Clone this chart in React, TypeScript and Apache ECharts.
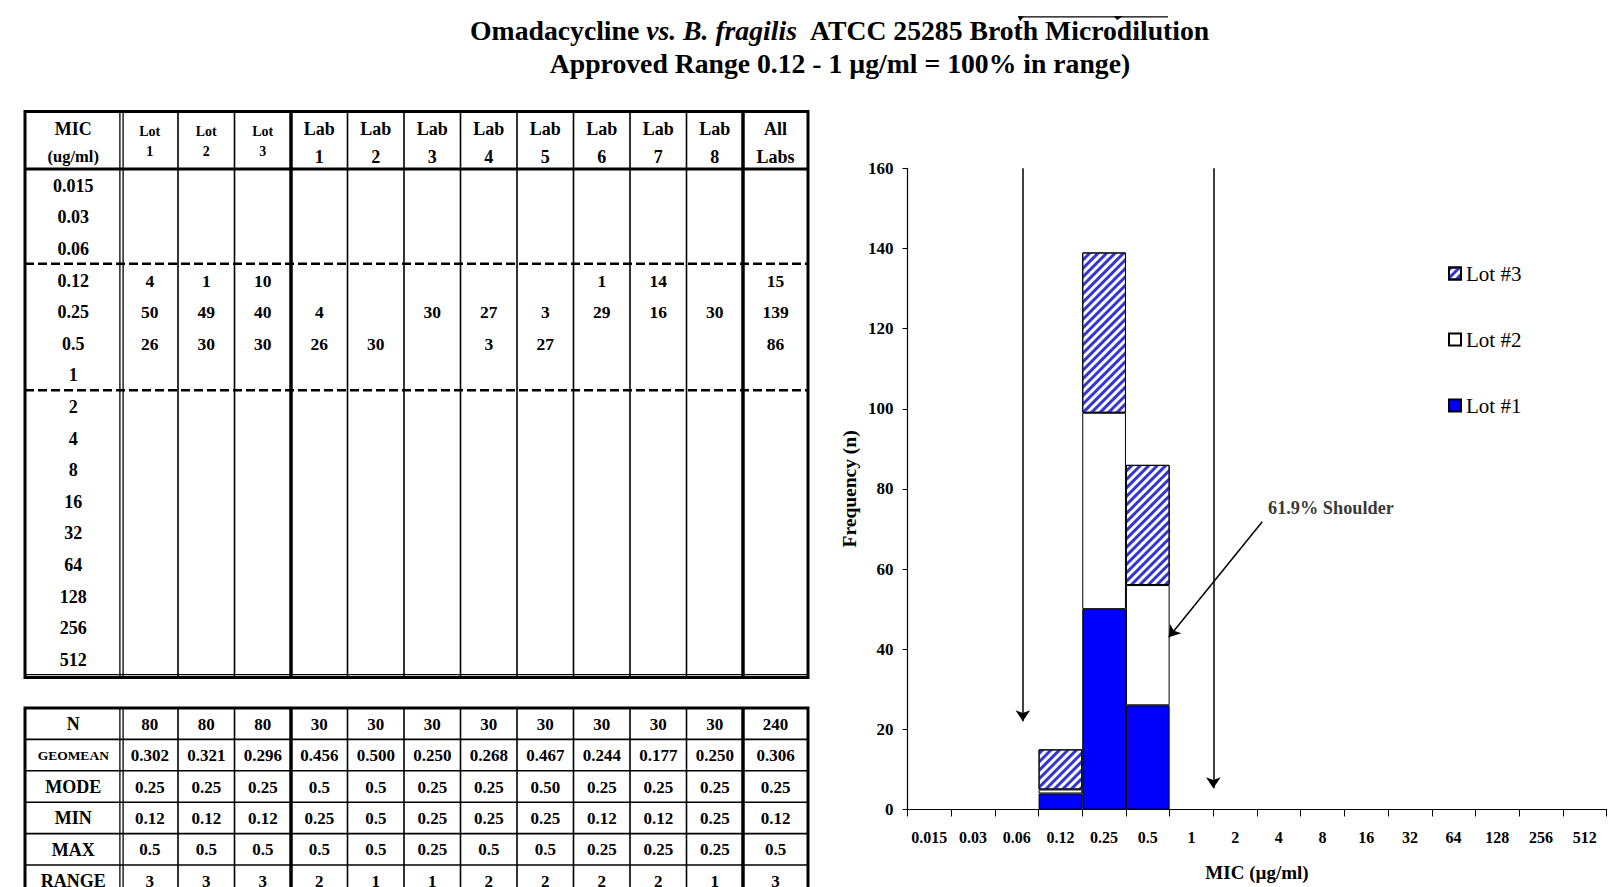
import React, { useEffect, useRef } from 'react';
import * as echarts from 'echarts';

const FONT = '"Liberation Serif", "Times New Roman", Times, serif';
const _ = null;

// ---- data ----
const micLabels = ['0.015', '0.03', '0.06', '0.12', '0.25', '0.5', '1', '2', '4', '8', '16', '32', '64', '128', '256', '512'];

const lot1Counts = [_, _, _, 4, 50, 26, _, _, _, _, _, _, _, _, _, _];
const lot2Counts = [_, _, _, 1, 49, 30, _, _, _, _, _, _, _, _, _, _];
const lot3Counts = [_, _, _, 10, 40, 30, _, _, _, _, _, _, _, _, _, _];
const lab1Counts = [_, _, _, _, 4, 26, _, _, _, _, _, _, _, _, _, _];
const lab2Counts = [_, _, _, _, _, 30, _, _, _, _, _, _, _, _, _, _];
const lab3Counts = [_, _, _, _, 30, _, _, _, _, _, _, _, _, _, _, _];
const lab4Counts = [_, _, _, _, 27, 3, _, _, _, _, _, _, _, _, _, _];
const lab5Counts = [_, _, _, _, 3, 27, _, _, _, _, _, _, _, _, _, _];
const lab6Counts = [_, _, _, 1, 29, _, _, _, _, _, _, _, _, _, _, _];
const lab7Counts = [_, _, _, 14, 16, _, _, _, _, _, _, _, _, _, _, _];
const lab8Counts = [_, _, _, _, 30, _, _, _, _, _, _, _, _, _, _, _];
const allLabsCounts = [_, _, _, 15, 139, 86, _, _, _, _, _, _, _, _, _, _];

const colHeadTop = ['Lot', 'Lot', 'Lot', 'Lab', 'Lab', 'Lab', 'Lab', 'Lab', 'Lab', 'Lab', 'Lab', 'All'];
const colHeadBottom = ['1', '2', '3', '1', '2', '3', '4', '5', '6', '7', '8', 'Labs'];

const statLabels = ['N', 'GEOMEAN', 'MODE', 'MIN', 'MAX', 'RANGE'];
const statN = ['80', '80', '80', '30', '30', '30', '30', '30', '30', '30', '30', '240'];
const statGeomean = ['0.302', '0.321', '0.296', '0.456', '0.500', '0.250', '0.268', '0.467', '0.244', '0.177', '0.250', '0.306'];
const statMode = ['0.25', '0.25', '0.25', '0.5', '0.5', '0.25', '0.25', '0.50', '0.25', '0.25', '0.25', '0.25'];
const statMin = ['0.12', '0.12', '0.12', '0.25', '0.5', '0.25', '0.25', '0.25', '0.12', '0.12', '0.25', '0.12'];
const statMax = ['0.5', '0.5', '0.5', '0.5', '0.5', '0.25', '0.5', '0.5', '0.25', '0.25', '0.25', '0.5'];
const statRange = ['3', '3', '3', '2', '1', '1', '2', '2', '2', '2', '1', '3'];

const seriesNames = ['Lot #1', 'Lot #2', 'Lot #3'];
const legendOrder = ['Lot #3', 'Lot #2', 'Lot #1'];

// annotation positions in data units (x: category units from left edge, y: frequency)
const rangeArrowX = [2.64, 7.0];
const rangeArrowTop = [160, 160];
const rangeArrowTip = [22, 5.3];
const shoulderArrowFrom = [8.12, 71.8];
const shoulderArrowTo = [5.98, 43];
const shoulderLabelAt = [8.24, 75.3];
const shoulderText = '61.9% Shoulder';
const approvedLow = '0.12';
const approvedHigh = '1';

// ---- layout ----
const TBL_LEFT = 25;
const LABEL_COL_RIGHT = 121.5;
const DATA_COL_W = 56.5;
const ALL_COL_W = 65;
const TOP_Y = 111.5;
const HEAD_BOTTOM = 169;
const ROW_H = 31.6;
const STAT_TOP = 708;
const STAT_ROW_H = 31.4;

function txt(text: string, x: number, y: number, size: number, weight = 'bold') {
  return {
    type: 'text',
    silent: true,
    x,
    y,
    style: {
      text,
      fill: '#000',
      fontSize: size,
      fontWeight: weight,
      fontFamily: FONT,
      align: 'center',
      verticalAlign: 'middle',
      textAlign: 'center',
      textVerticalAlign: 'middle',
    },
  };
}

function ln(x1: number, y1: number, x2: number, y2: number, w: number, dash?: number[]) {
  return {
    type: 'line',
    silent: true,
    shape: { x1, y1, x2, y2 },
    style: { stroke: '#000', lineWidth: w, lineDash: dash || null },
  };
}

function wedge(points: number[][]) {
  return { type: 'polygon', silent: true, shape: { points }, style: { fill: '#000', stroke: 'none' } };
}

function buildTables() {
  const els: any[] = [];
  const edges: number[] = [TBL_LEFT, LABEL_COL_RIGHT];
  for (let i = 0; i < 11; i++) edges.push(LABEL_COL_RIGHT + DATA_COL_W * (i + 1));
  edges.push(edges[edges.length - 1] + ALL_COL_W);
  const right = edges[edges.length - 1];
  const width = right - TBL_LEFT;
  const bodyBottom = HEAD_BOTTOM + micLabels.length * ROW_H;
  const topBottom = bodyBottom + 3;

  const columns = [lot1Counts, lot2Counts, lot3Counts, lab1Counts, lab2Counts, lab3Counts, lab4Counts, lab5Counts, lab6Counts, lab7Counts, lab8Counts, allLabsCounts];
  const stats = [statN, statGeomean, statMode, statMin, statMax, statRange];

  const verticals = (y1: number, y2: number) => {
    for (let i = 1; i < edges.length - 1; i++) {
      const x = edges[i];
      if (i === 1) {
        els.push(ln(x - 1.6, y1, x - 1.6, y2, 1.3));
        els.push(ln(x + 1.6, y1, x + 1.6, y2, 1.3));
      } else if (i === 4 || i === 12) {
        els.push(ln(x, y1, x, y2, 3.5));
      } else {
        els.push(ln(x, y1, x, y2, 1.6));
      }
    }
  };

  // top table frame
  els.push({ type: 'rect', silent: true, shape: { x: TBL_LEFT, y: TOP_Y, width, height: topBottom - TOP_Y }, style: { fill: 'none', stroke: '#000', lineWidth: 3 } });
  els.push(ln(TBL_LEFT, HEAD_BOTTOM, right, HEAD_BOTTOM, 3));
  els.push(ln(TBL_LEFT, bodyBottom, right, bodyBottom, 1.3));
  verticals(TOP_Y, topBottom);
  const lowIdx = micLabels.indexOf(approvedLow);
  const highIdx = micLabels.indexOf(approvedHigh);
  els.push(ln(TBL_LEFT, HEAD_BOTTOM + lowIdx * ROW_H, right, HEAD_BOTTOM + lowIdx * ROW_H, 2.6, [9, 4]));
  els.push(ln(TBL_LEFT, HEAD_BOTTOM + (highIdx + 1) * ROW_H, right, HEAD_BOTTOM + (highIdx + 1) * ROW_H, 2.6, [9, 4]));

  // header texts
  const labelCx = (edges[0] + edges[1]) / 2;
  els.push(txt('MIC', labelCx, 129, 18));
  els.push(txt('(ug/ml)', labelCx, 156.5, 16.5));
  for (let c = 0; c < 12; c++) {
    const cx = (edges[c + 1] + edges[c + 2]) / 2;
    const small = colHeadTop[c] === 'Lot';
    els.push(txt(colHeadTop[c], cx, small ? 131.5 : 129, small ? 14 : 18));
    els.push(txt(colHeadBottom[c], cx, small ? 151.5 : 156.5, small ? 14 : 18));
  }
  // body
  micLabels.forEach((m, r) => {
    const cy = HEAD_BOTTOM + ROW_H * (r + 0.5) + 1;
    els.push(txt(m, labelCx, cy, 18));
    columns.forEach((col, c) => {
      const v = col[r];
      if (v != null) {
        const cx = (edges[c + 1] + edges[c + 2]) / 2;
        els.push(txt(String(v), cx, cy, 17.5));
      }
    });
  });

  // stats table
  els.push({ type: 'rect', silent: true, shape: { x: TBL_LEFT, y: STAT_TOP, width, height: 400 }, style: { fill: 'none', stroke: '#000', lineWidth: 3 } });
  for (let k = 1; k < statLabels.length; k++) {
    els.push(ln(TBL_LEFT, STAT_TOP + k * STAT_ROW_H, right, STAT_TOP + k * STAT_ROW_H, 1.6));
  }
  verticals(STAT_TOP, 900);
  statLabels.forEach((lab, r) => {
    const cy = STAT_TOP + STAT_ROW_H * (r + 0.5) + 0.5;
    els.push(txt(lab, labelCx, cy, lab === 'GEOMEAN' ? 13.5 : 18));
    stats[r].forEach((v, c) => {
      const cx = (edges[c + 1] + edges[c + 2]) / 2;
      els.push(txt(v, cx, cy, 17));
    });
  });

  // stray overline above the title
  els.push(ln(1018, 16.8, 1168, 16.8, 1.3));
  els.push(wedge([[1018, 16.2], [1024, 16.2], [1020, 21.5]]));
  els.push(wedge([[1114, 16.2], [1123, 16.2], [1117, 20]]));
  return els;
}

function buildOption() {
  const axisFont = { color: '#000', fontFamily: FONT, fontWeight: 'bold' as const };
  const hatch = {
    symbol: 'rect',
    symbolSize: 1,
    color: '#3434d4',
    dashArrayX: [1, 0],
    dashArrayY: [2.2, 2.2],
    rotation: -Math.PI / 4,
  };
  const barBase = {
    type: 'bar',
    stack: 'lots',
    barCategoryGap: '0%',
    silent: true,
  };
  return {
    animation: false,
    backgroundColor: '#fff',
    title: {
      left: 840,
      top: 14,
      padding: 0,
      textAlign: 'center',
      text: '{b|Omadacycline }{i|vs. B. fragilis}{b|  ATCC 25285 Broth Microdilution}\n{b|Approved Range 0.12 - 1 µg/ml = 100% in range)}',
      textStyle: {
        rich: {
          b: { fontFamily: FONT, fontWeight: 'bold', fontSize: 27.7, lineHeight: 33, color: '#000' },
          i: { fontFamily: FONT, fontWeight: 'bold', fontStyle: 'italic', fontSize: 27.7, lineHeight: 33, color: '#000' },
        },
      },
    },
    legend: {
      data: legendOrder,
      orient: 'vertical',
      left: 1448,
      top: 263,
      padding: 0,
      itemWidth: 12,
      itemHeight: 12,
      itemGap: 45,
      icon: 'rect',
      selectedMode: false,
      textStyle: { color: '#000', fontFamily: FONT, fontSize: 21 },
    },
    grid: { left: 907.5, right: 6.5, top: 168.3, bottom: 77.5, containLabel: false, outerBoundsMode: 'none' },
    xAxis: [
      {
        type: 'category',
        data: micLabels,
        boundaryGap: true,
        axisLine: { show: true, lineStyle: { color: '#000', width: 1.2 } },
        axisTick: { show: true, interval: 0, length: 7, lineStyle: { color: '#000' } },
        axisLabel: { ...axisFont, interval: 0, fontSize: 16, margin: 20 },
        splitLine: { show: false },
        name: 'MIC (µg/ml)',
        nameLocation: 'middle',
        nameGap: 53,
        nameTextStyle: { ...axisFont, fontSize: 19 },
      },
      { type: 'value', min: 0, max: 16, show: false },
    ],
    yAxis: {
      type: 'value',
      min: 0,
      max: 160,
      interval: 20,
      axisLine: { show: true, lineStyle: { color: '#000', width: 1.2 } },
      axisTick: { show: true, length: 5, lineStyle: { color: '#000' } },
      axisLabel: { ...axisFont, fontSize: 17, margin: 14 },
      splitLine: { show: false },
      name: 'Frequency (n)',
      nameLocation: 'middle',
      nameGap: 48,
      nameTextStyle: { ...axisFont, fontSize: 19.5 },
    },
    series: [
      { ...barBase, name: seriesNames[0], data: lot1Counts, itemStyle: { color: '#0000ff', borderColor: '#000', borderWidth: 1 } },
      { ...barBase, name: seriesNames[1], data: lot2Counts, itemStyle: { color: '#ffffff', borderColor: '#000', borderWidth: 1 } },
      { ...barBase, name: seriesNames[2], data: lot3Counts, itemStyle: { color: '#ffffff', borderColor: '#000', borderWidth: 1, decal: hatch } },
      {
        type: 'scatter',
        xAxisIndex: 1,
        yAxisIndex: 0,
        silent: true,
        symbol: 'circle',
        symbolSize: 1,
        itemStyle: { color: 'rgba(0,0,0,0)' },
        data: [shoulderLabelAt],
        label: { show: true, position: 'right', distance: 0, formatter: shoulderText, ...axisFont, fontSize: 18.3 },
        markLine: {
          silent: true,
          symbol: ['none', 'arrow'],
          symbolSize: 11,
          label: { show: false },
          emphasis: { disabled: true },
          lineStyle: { color: '#000', width: 1.5, type: 'solid' },
          data: [
            [{ coord: [rangeArrowX[0], rangeArrowTop[0]] }, { coord: [rangeArrowX[0], rangeArrowTip[0]] }],
            [{ coord: [rangeArrowX[1], rangeArrowTop[1]] }, { coord: [rangeArrowX[1], rangeArrowTip[1]] }],
            [{ coord: shoulderArrowFrom }, { coord: shoulderArrowTo }],
          ],
        },
      },
    ],
    graphic: buildTables(),
  };
}

export default function App() {
  const ref = useRef<HTMLDivElement>(null);
  useEffect(() => {
    if (!ref.current) return;
    const chart = echarts.init(ref.current, undefined, { renderer: 'svg' });
    chart.setOption(buildOption() as any);
    return () => chart.dispose();
  }, []);
  return (
    <div
      ref={ref}
      style={{ position: 'absolute', left: 0, top: 0, width: 1613, height: 887, background: '#fff' }}
    />
  );
}
